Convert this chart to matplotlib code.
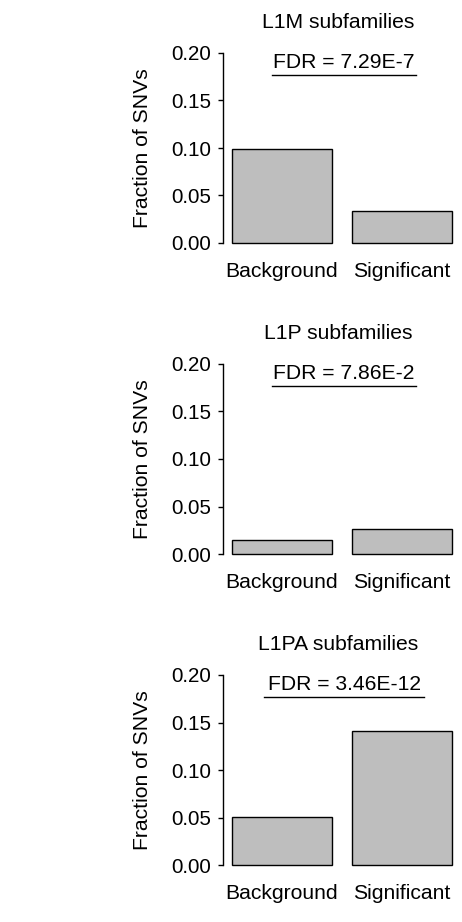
import matplotlib
matplotlib.use("Agg")
import matplotlib.pyplot as plt

plt.rcParams['font.family'] = ['Liberation Sans', 'DejaVu Sans']

# data
groups = ['Background', 'Significant']
titles = ['L1M subfamilies', 'L1P subfamilies', 'L1PA subfamilies']
fdr_labels = ['FDR = 7.29E-7', 'FDR = 7.86E-2', 'FDR = 3.46E-12']
l1m_vals = [0.099, 0.0337]
l1p_vals = [0.0147, 0.026]
l1pa_vals = [0.051, 0.1415]
panel_vals = [l1m_vals, l1p_vals, l1pa_vals]
yticks = [0.00, 0.05, 0.10, 0.15, 0.20]

W, H = 462, 922
fig = plt.figure(figsize=(W / 100, H / 100), dpi=100)

zero_px = [243, 554, 865]   # pixel row of y = 0 in each panel
scale = 950.0               # pixels per unit of y
left_px, right_px = 223.2, 461.0

# bar positions like R barplot (width 1, space 0.2)
xpos = [0.7, 1.9]
# underline extents (data x)
line_x = [(0.6, 2.04), (0.6, 2.04), (0.52, 2.12)]

fs = 15.2
for i in range(3):
    z = zero_px[i]
    top = z - 0.208 * scale
    bot = z + 0.008 * scale
    ax = fig.add_axes([left_px / W, 1 - bot / H, (right_px - left_px) / W, (bot - top) / H])
    ax.bar(xpos, panel_vals[i], width=1.0, color='#BEBEBE', edgecolor='black', linewidth=1.0)
    ax.set_xlim(0.112, 2.488)
    ax.set_ylim(-0.008, 0.208)
    for s in ['top', 'right', 'bottom']:
        ax.spines[s].set_visible(False)
    ax.spines['left'].set_bounds(0, 0.2)
    ax.spines['left'].set_linewidth(1.0)
    ax.set_yticks(yticks)
    ax.set_yticklabels(['%.2f' % t for t in yticks], fontsize=14.9)
    ax.set_xticks(xpos)
    ax.set_xticklabels(groups, fontsize=fs)
    ax.tick_params(axis='y', length=3.6, width=1.0, pad=5)
    ax.tick_params(axis='x', length=0, pad=8.3)

    ax.text(-0.341, 0.5, 'Fraction of SNVs', rotation=90, ha='center', va='center',
            fontsize=fs, transform=ax.transAxes)
    ax.text(1.26, 0.226, titles[i], ha='center', va='baseline', fontsize=fs, clip_on=False)
    ax.text(1.32, 0.184, fdr_labels[i], ha='center', va='baseline', fontsize=fs, clip_on=False)
    ax.plot(line_x[i], [0.177, 0.177], color='black', linewidth=1.0, clip_on=False)

fig.savefig('out.png', dpi=100)
